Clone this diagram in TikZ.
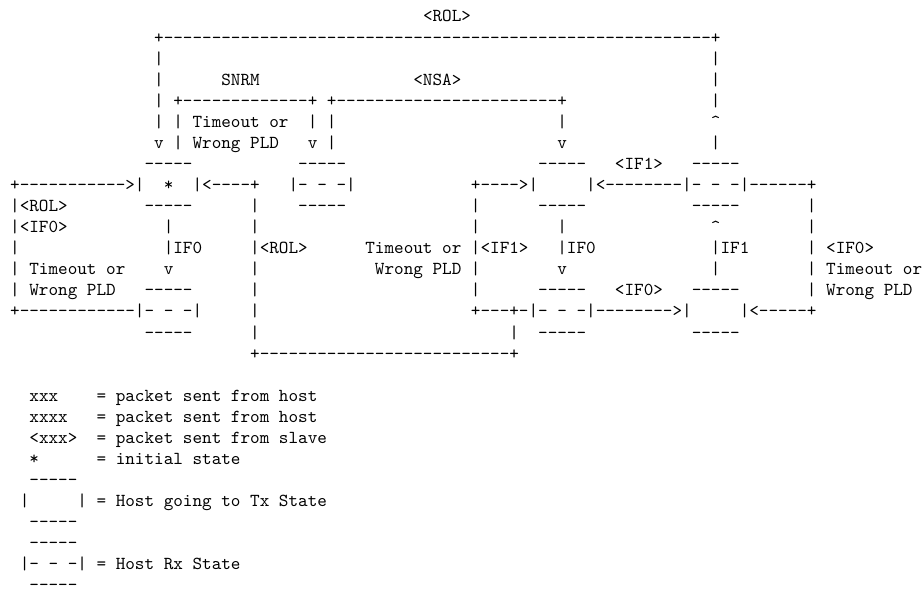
\documentclass[tikz,border=0pt]{standalone}
\usepackage{fontspec}
\newfontfamily\asciifont[Ligatures=TeXOff]{lmmono10-regular.otf}
\newlength\colw
\setlength\colw{7.2pt}
\newcommand\sk[1]{\hskip#1\colw\relax}
\newcommand\dashrun[1]{\foreach\x in {1,...,#1}{-}}
\tikzset{
  ascii/.style={anchor=base west, inner sep=0pt, outer sep=0pt, font=\asciifont\fontsize{13.714pt}{16pt}\selectfont}
}

\begin{document}
\begin{tikzpicture}[x=7.2pt, y=-15.8025pt]
    \useasboundingbox (-1.0625,-1.0441) rectangle (95.1875,27.385);

    % state diagram
    \node[ascii] (ln0) at (0,0) {\sk{43}<ROL>};
    \node[ascii] (ln1) at (0,1) {\sk{15}+\dashrun{57}+};
    \node[ascii] (ln2) at (0,2) {\sk{15}|\sk{57}|};
    \node[ascii] (ln3) at (0,3) {\sk{15}|\sk{6}SNRM\sk{16}<NSA>\sk{26}|};
    \node[ascii] (ln4) at (0,4) {\sk{15}| +\dashrun{13}+ +\dashrun{23}+\sk{15}|};
    \node[ascii] (ln5) at (0,5) {\sk{15}| | Timeout or\sk{2}| |\sk{23}|\sk{15}\textasciicircum};
    \node[ascii] (ln6) at (0,6) {\sk{15}v | Wrong PLD\sk{3}v |\sk{23}v\sk{15}|};
    \node[ascii] (ln7) at (0,7) {\sk{14}\dashrun{5}\sk{11}\dashrun{5}\sk{20}\dashrun{5}\sk{3}<IF1>\sk{3}\dashrun{5}};
    \node[ascii] (ln8) at (0,8) {+\dashrun{11}>|\sk{2}*\sk{2}|<\dashrun{4}+\sk{3}|- - -|\sk{12}+\dashrun{4}>|\sk{5}|<\dashrun{8}|- - -|\dashrun{6}+};
    \node[ascii] (ln9) at (0,9) {|<ROL>\sk{8}\dashrun{5}\sk{6}|\sk{4}\dashrun{5}\sk{13}|\sk{6}\dashrun{5}\sk{11}\dashrun{5}\sk{7}|};
    \node[ascii] (ln10) at (0,10) {|<IF0>\sk{10}|\sk{8}|\sk{22}|\sk{8}|\sk{15}\textasciicircum\sk{9}|};
    \node[ascii] (ln11) at (0,11) {|\sk{15}|IF0\sk{5}|<ROL>\sk{6}Timeout or |<IF1>\sk{3}|IF0\sk{12}|IF1\sk{6}| <IF0>};
    \node[ascii] (ln12) at (0,12) {| Timeout or\sk{4}v\sk{8}|\sk{12}Wrong PLD |\sk{8}v\sk{15}|\sk{9}| Timeout or};
    \node[ascii] (ln13) at (0,13) {| Wrong PLD\sk{3}\dashrun{5}\sk{6}|\sk{22}|\sk{6}\dashrun{5}\sk{3}<IF0>\sk{3}\dashrun{5}\sk{7}| Wrong PLD};
    \node[ascii] (ln14) at (0,14) {+\dashrun{12}|- - -|\sk{5}|\sk{22}+\dashrun{3}+-|- - -|\dashrun{8}>|\sk{5}|<\dashrun{5}+};
    \node[ascii] (ln15) at (0,15) {\sk{14}\dashrun{5}\sk{6}|\sk{26}|\sk{2}\dashrun{5}\sk{11}\dashrun{5}};
    \node[ascii] (ln16) at (0,16) {\sk{25}+\dashrun{26}+};

    % legend
    \node[ascii] (ln18) at (0,18) {\sk{2}xxx\sk{4}= packet sent from host};
    \node[ascii] (ln19) at (0,19) {\sk{2}xxxx\sk{3}= packet sent from host};
    \node[ascii] (ln20) at (0,20) {\sk{2}<xxx>\sk{2}= packet sent from slave};
    \node[ascii] (ln21) at (0,21) {\sk{2}*\sk{6}= initial state};
    \node[ascii] (ln22) at (0,22) {\sk{2}\dashrun{5}};
    \node[ascii] (ln23) at (0,23) {\sk{1}|\sk{5}| = Host going to Tx State};
    \node[ascii] (ln24) at (0,24) {\sk{2}\dashrun{5}};
    \node[ascii] (ln25) at (0,25) {\sk{2}\dashrun{5}};
    \node[ascii] (ln26) at (0,26) {\sk{1}|- - -| = Host Rx State};
    \node[ascii] (ln27) at (0,27) {\sk{2}\dashrun{5}};
\end{tikzpicture}
\end{document}
